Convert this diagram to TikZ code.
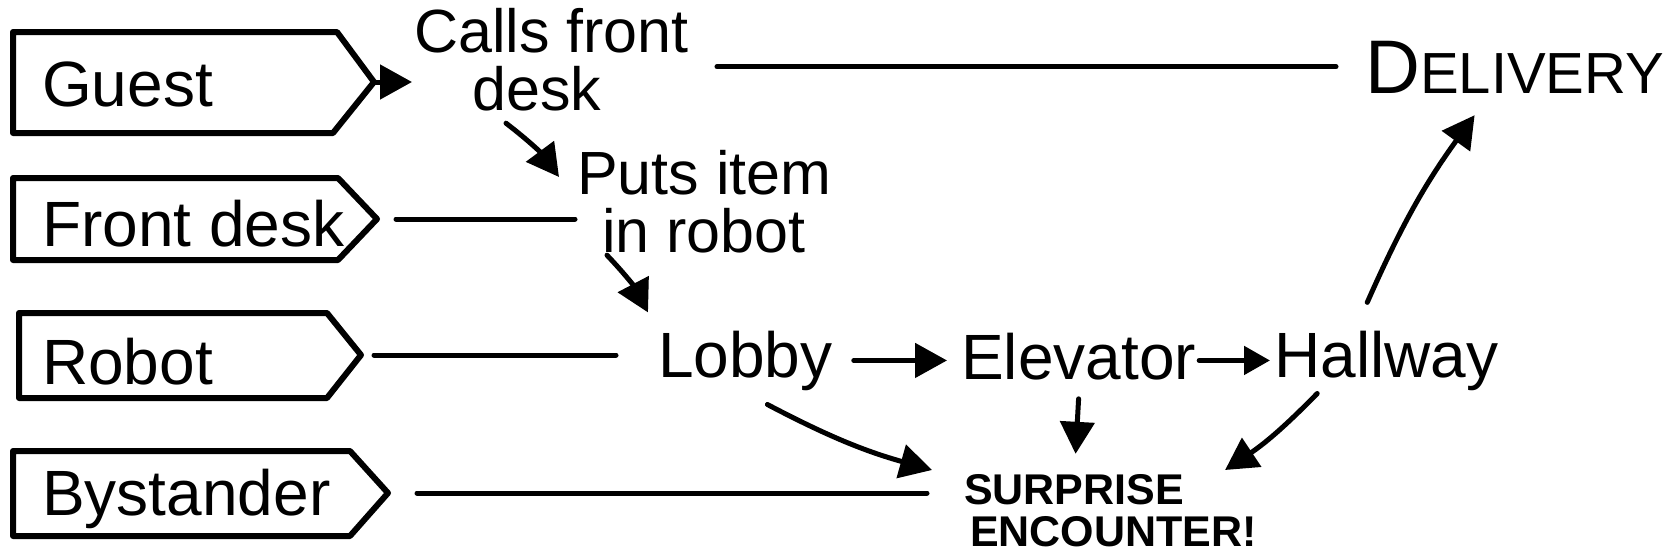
\documentclass[tikz,border=0pt]{standalone}
\usepackage{fontspec}
\setmainfont{Liberation Sans}
\usetikzlibrary{arrows.meta,calc}
\begin{document}
\begin{tikzpicture}[x=1pt,y=-1pt,
  lanebox/.style={line width=6pt, line join=round},
  lbl/.style={inner sep=0pt, font=\fontsize{64}{52}\selectfont},
  twoline/.style={inner sep=0pt, align=left, font=\fontsize{61}{58}\selectfont},
  small/.style={inner sep=0pt, font=\bfseries\fontsize{43}{42}\selectfont},
  conn/.style={line width=5pt, line cap=round},
  arr/.style={conn, -{Triangle[length=32pt,width=34pt]}},
  sarr/.style={conn, -{Triangle[length=26pt,width=28pt]}}]
\fill[white] (0,0) rectangle (1665,555);
\useasboundingbox (0,0) rectangle (1665,555);

% lane boxes
\draw[lanebox] (13,32) -- (337,32) -- (374,82) coordinate (guesttip) -- (333,133) -- (13,133) -- cycle;
\draw[lanebox] (13,178) -- (338,178) -- (377,219) coordinate (fdtip) -- (338,260) -- (13,260) -- cycle;
\draw[lanebox] (19,313) -- (327,313) -- (361,355) coordinate (robottip) -- (327,398) -- (19,398) -- cycle;
\draw[lanebox] (13,451) -- (350,451) -- (388,493) coordinate (bysttip) -- (350,536) -- (13,536) -- cycle;

\node[lbl, anchor=base west] (guest) at (42,106) {Guest};
\node[lbl, anchor=base west] (frontdesk) at (42,246) {Front desk};
\node[lbl, anchor=base west] (robot) at (42,384) {Robot};
\node[lbl, anchor=base west] (bystander) at (42,515) {Bystander};

% step labels
\node[twoline, anchor=north west] (calls) at (414,8) {Calls front\\\hspace*{58pt}desk};
\node[twoline, anchor=north west] (puts) at (577,150) {Puts item\\\hspace*{25pt}in robot};
\node[lbl, anchor=base west] (lobby) at (658,377) {Lobby};
\node[lbl, anchor=base west] (elevator) at (961,379) {Elevator};
\node[lbl, anchor=base west] (hallway) at (1274,377) {Hallway};
\node[inner sep=0pt, anchor=base west] (delivery) at (1365,93)
  {\fontsize{76}{76}\selectfont D\fontsize{58}{58}\selectfont ELIVERY};
\node[small, anchor=north west, align=left] (surprise) at (964,474)
  {SURPRISE\\\hspace*{6pt}ENCOUNTER!};

% connectors
\draw[arr, shorten >=2pt] (guesttip) -- (guesttip -| calls.west);
\draw[conn] ([xshift=28pt]calls.east |- delivery.west) -- ([xshift=-29pt]delivery.west);
\draw[arr] ($(calls.south west)+(92,12)$) to[bend left=8] ($(puts.north west)+(-18,27)$);
\draw[conn, shorten <=19pt, shorten >=2pt] (fdtip) -- (fdtip -| puts.west);
\draw[arr] ($(puts.south west)+(30,2)$) to[bend left=8] ($(lobby.north west)+(-10,-18)$);
\draw[conn, shorten <=13pt, shorten >=42pt] (robottip) -- (robottip -| lobby.west);
\draw[arr, shorten <=21pt, shorten >=14pt] (lobby.east) -- (lobby.east -| elevator.west);
\draw[sarr, shorten <=3pt, shorten >=4pt] (elevator.east |- lobby.east) -- (hallway.west |- lobby.east);
\draw[arr] ($(hallway.north)+(-19,-28)$) to[bend left=6] ($(delivery.south)+(-40,22)$);
\draw[arr] ($(lobby.south)+(22,14)$) to[bend right=6] ($(surprise.north west)+(-32,-4)$);
\draw[arr] ($(elevator.south)+(0,19)$) -- ($(elevator.south)+(-3,74)$);
\draw[arr] ($(hallway.south)+(-69,3)$) to[bend left=6] ($(surprise.north east)+(-32,-4)$);
\draw[conn, shorten <=29pt, shorten >=37pt] (bysttip) -- (bysttip -| surprise.west);
\end{tikzpicture}
\end{document}
